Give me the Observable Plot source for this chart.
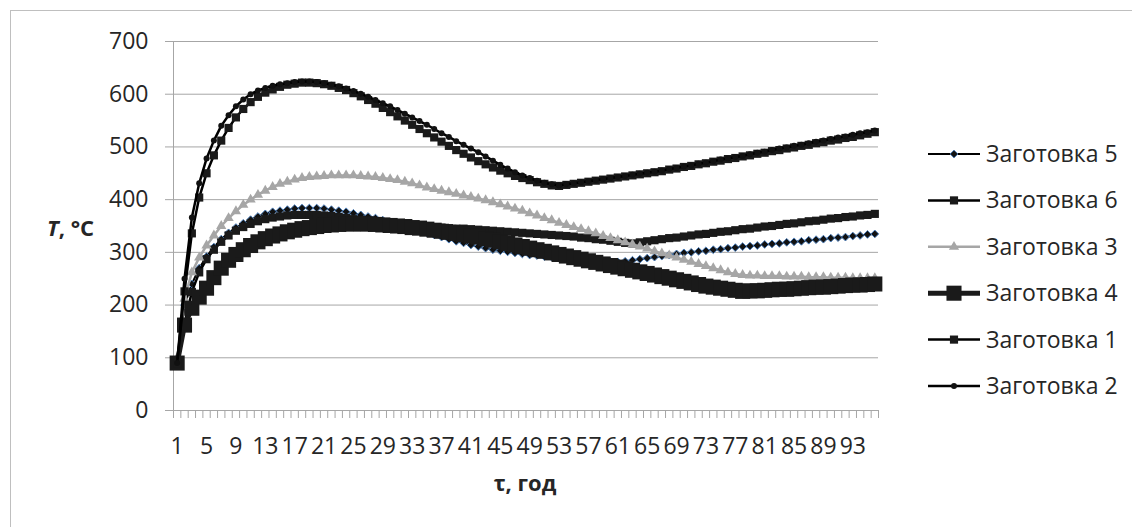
<!DOCTYPE html>
<html>
<head>
<meta charset="utf-8">
<script src="https://cdn.jsdelivr.net/npm/d3@7"></script>
<script src="https://cdn.jsdelivr.net/npm/@observablehq/plot@0.6"></script>
<style>
  html, body { margin: 0; padding: 0; background: #fff; }
  #chart { position: relative; width: 1132px; height: 527px; }
</style>
</head>
<body>
<div id="chart"></div>
<script>
// Categories (τ, год) 1..96
const categories = d3.range(1, 97);
const xTickLabels = [1, 5, 9, 13, 17, 21, 25, 29, 33, 37, 41, 45, 49, 53, 57, 61, 65, 69, 73, 77, 81, 85, 89, 93];
const yTickLabels = [0, 100, 200, 300, 400, 500, 600, 700];

const zag5 = [90,200,240,270,292,310,325,337,347,355,362,368,373,377,379,381,383,384,384,384,
  383,381,379,377,374,371,368,365,361,357,353,349,345,341,337,333,329,325,321,318,
  314,311,308,305,303,301,299,297,295,294,292,291,290,289,288,287,286,285,284,283,
  282,283,285,287,289,291,293,295,297,299,300,302,303,305,306,308,309,311,312,313,
  315,316,317,319,320,321,323,324,325,327,328,329,331,332,334,335];
const zag6 = [90,165,225,262,287,305,320,332,341,348,354,359,363,366,368,370,371,371,371,371,
  370,369,367,365,363,361,359,357,356,354,353,352,351,350,349,348,347,346,345,345,
  344,343,342,341,340,339,338,337,336,335,334,333,332,331,330,328,327,325,324,322,
  320,318,317,319,321,323,325,327,328,330,332,334,335,337,339,340,342,344,345,347,
  349,350,352,354,355,357,359,360,362,364,365,367,368,370,371,373];
const zag3 = [100,212,262,290,313,332,350,365,378,390,400,409,417,424,430,434,438,441,443,444,
  445,446,446,446,446,445,444,443,441,439,437,434,431,427,423,420,417,414,411,408,
  405,402,399,395,391,387,383,379,374,370,365,361,356,352,348,344,340,336,331,327,
  323,319,315,311,307,302,298,294,290,286,282,278,274,270,266,262,259,257,256,256,
  255,255,255,254,254,254,253,253,253,252,252,252,251,251,251,251];
const zag4 = [90,162,194,215,232,252,270,285,296,305,313,320,326,331,335,339,342,345,347,349,
  351,352,353,354,354,354,354,353,352,351,350,349,347,346,344,342,340,338,336,334,
  331,329,326,323,320,317,314,311,308,305,302,299,296,293,290,287,284,281,278,275,
  272,269,266,263,260,257,254,251,248,245,242,239,236,234,232,230,228,226,227,227,
  228,229,230,230,231,232,233,234,234,235,236,237,238,238,239,240];
const zag1 = [90,226,336,404,450,484,512,536,556,572,585,595,603,609,614,618,620,622,622,621,
  619,616,612,608,602,596,589,582,574,566,558,550,542,534,526,518,510,502,494,487,
  480,473,467,461,455,450,445,441,437,433,430,427,426,428,430,432,434,436,438,440,
  442,444,446,448,450,452,454,457,459,462,464,467,469,472,474,477,479,482,484,487,
  489,492,494,497,499,502,504,507,509,512,514,517,519,522,525,528];
const zag2 = [90,250,366,431,478,512,540,560,577,590,600,607,612,616,619,621,623,624,624,623,
  621,618,615,611,606,601,595,589,583,577,570,563,556,549,542,534,526,519,511,504,
  497,490,482,474,466,459,452,446,441,436,432,429,427,429,431,433,435,437,439,441,
  443,445,447,449,451,453,455,458,460,463,465,468,470,473,476,478,481,483,486,489,
  491,494,497,499,502,504,507,510,512,515,518,520,523,526,528,531];

const seriesNames = ["Заготовка 5", "Заготовка 6", "Заготовка 3", "Заготовка 4", "Заготовка 1", "Заготовка 2"];
const seriesValues = [zag5, zag6, zag3, zag4, zag1, zag2];

const styles = [
  {line: "#000", lw: 2, symbol: "diamond2", r: 3.5, fill: "#111", stroke: "#4f81bd", sw: 1},
  {line: "#000", lw: 2.5, symbol: "square", r: 4.6, fill: "#1a1a1a", stroke: "none", sw: 0},
  {line: "#a6a6a6", lw: 2.5, symbol: "triangle", r: 3.8, fill: "#a6a6a6", stroke: "none", sw: 0},
  {line: "#1a1a1a", lw: 5, symbol: "square", r: 8.5, fill: "#1a1a1a", stroke: "none", sw: 0},
  {line: "#000", lw: 2.5, symbol: "square", r: 4.6, fill: "#1a1a1a", stroke: "none", sw: 0},
  {line: "#000", lw: 2.5, symbol: "circle", r: 3, fill: "#111", stroke: "none", sw: 0}
];

const rows = seriesNames.map((name, k) => categories.map((c, i) => ({series: name, x: c, y: seriesValues[k][i]})));
const boundaries = d3.range(0, 97).map(d => d + 0.5);
const font = "'Open Sans', 'Noto Sans', sans-serif";
const gray = "#a6a6a6";
const fs = 23;

const marks = [
  Plot.gridY(yTickLabels, {stroke: gray, strokeOpacity: 1, strokeWidth: 1}),
  Plot.ruleX([0.5], {y1: 0, y2: 700, stroke: gray}),
  Plot.ruleY([0], {stroke: gray}),
  Plot.axisY(yTickLabels, {tickSize: 8, tickPadding: 17, stroke: gray, fill: "#262626", fontSize: fs, label: null}),
  Plot.axisX(boundaries, {tickSize: 8, tickFormat: () => "", stroke: gray, label: null}),
  Plot.axisX(xTickLabels, {tickSize: 0, tickPadding: 27, fill: "#262626", fontSize: fs, label: null})
];
rows.forEach((data, k) => {
  const s = styles[k];
  marks.push(Plot.line(data, {x: "x", y: "y", stroke: s.line, strokeWidth: s.lw, curve: "linear"}));
  marks.push(Plot.dot(data, {x: "x", y: "y", symbol: s.symbol, r: s.r, fill: s.fill, stroke: s.stroke, strokeWidth: s.sw}));
});

const chart = Plot.plot({
  width: 1132,
  height: 527,
  marginLeft: 173,
  marginRight: 254,
  marginTop: 41,
  marginBottom: 117,
  x: {type: "linear", domain: [0.5, 96.5]},
  y: {domain: [0, 700]},
  style: {fontFamily: font, fontSize: fs + "px", color: "#262626", background: "transparent"},
  marks
});

const svg = d3.select(chart);
// chart border
svg.insert("rect", ":first-child")
  .attr("x", 10.5).attr("y", 10.5).attr("width", 1300).attr("height", 700)
  .attr("fill", "none").attr("stroke", "#bfbfbf");

// axis titles
const yt = svg.append("text")
  .attr("x", 47).attr("y", 228).attr("dy", "0.35em").attr("text-anchor", "start")
  .attr("font-family", font).attr("font-size", 22).attr("font-weight", "bold").attr("fill", "#262626");
yt.append("tspan").attr("font-style", "italic").text("T");
yt.append("tspan").text(", °C");

svg.append("text")
  .attr("x", 525).attr("y", 483).attr("dy", "0.35em").attr("text-anchor", "middle")
  .attr("font-family", font).attr("font-size", 22).attr("font-weight", "bold").attr("fill", "#262626")
  .text("τ, год");

// legend
const legendY0 = 154, legendStep = 46.4;
const symMap = {square: d3.symbolSquare, circle: d3.symbolCircle, triangle: d3.symbolTriangle, diamond2: d3.symbolDiamond2};
seriesNames.forEach((name, k) => {
  const s = styles[k];
  const y = legendY0 + k * legendStep;
  const g = svg.append("g");
  g.append("line").attr("x1", 928).attr("x2", 980).attr("y1", y).attr("y2", y)
    .attr("stroke", s.line).attr("stroke-width", s.lw);
  g.append("path")
    .attr("transform", `translate(954,${y})`)
    .attr("d", d3.symbol(symMap[s.symbol], Math.PI * s.r * s.r)())
    .attr("fill", s.fill).attr("stroke", s.stroke).attr("stroke-width", s.sw);
  g.append("text").attr("x", 986).attr("y", y).attr("dy", "0.35em").attr("text-anchor", "start")
    .attr("font-family", font).attr("font-size", fs).attr("fill", "#262626")
    .text(name);
});

document.getElementById("chart").appendChild(chart);
</script>
</body>
</html>
